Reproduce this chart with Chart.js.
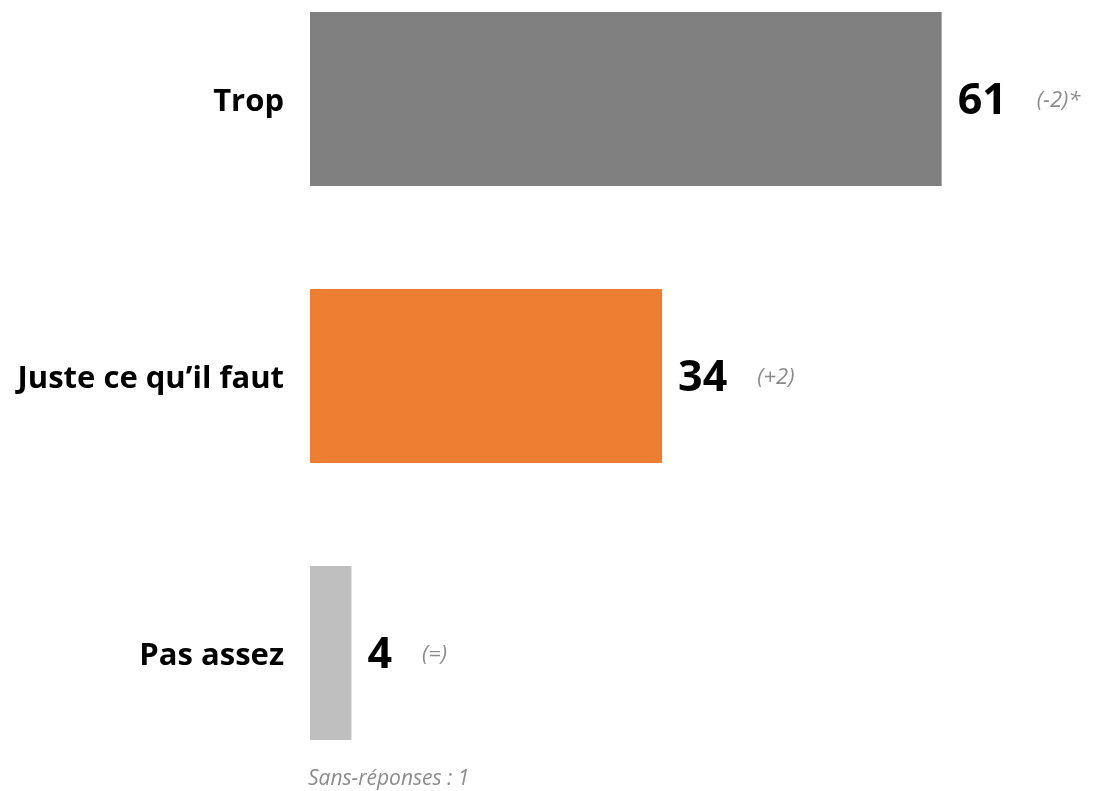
<!DOCTYPE html>
<html><head><meta charset="utf-8">
<script src="https://cdn.jsdelivr.net/npm/chart.js@4"></script>
<style>html,body{margin:0;padding:0;background:#fff}#wrap{width:1104px;height:791px}</style>
</head><body><div id="wrap"><canvas id="c"></canvas></div>
<script>
const categories = ["Trop", "Juste ce qu\u2019il faut", "Pas assez"];
const values = [61, 34, 4];
const changes = ["(-2)*", "(+2)", "(=)"];
const barColors = ["#808080", "#ED7D31", "#BFBFBF"];
const footnote = "Sans-r\u00e9ponses : 1";
const FONT = "'Open Sans', sans-serif";

const labelPlugin = {
  id: 'valueLabels',
  afterDatasetsDraw(chart) {
    const ctx = chart.ctx;
    const meta = chart.getDatasetMeta(0);
    ctx.save();
    meta.data.forEach((bar, i) => {
      const x = bar.x + 16;
      const y = bar.y;
      ctx.font = "bold 43px " + FONT;
      ctx.fillStyle = "#000";
      ctx.textAlign = "left";
      ctx.textBaseline = "middle";
      const txt = String(values[i]);
      ctx.fillText(txt, x, y + 3);
      const w = ctx.measureText(txt).width;
      ctx.font = "italic 22px " + FONT;
      ctx.fillStyle = "#8C8C8C";
      ctx.fillText(changes[i], x + w + 30, y + 2);
    });
    ctx.font = "italic 21px " + FONT;
    ctx.fillStyle = "#8C8C8C";
    ctx.textAlign = "left";
    ctx.textBaseline = "middle";
    ctx.fillText(footnote, 308, 779);
    ctx.restore();
  }
};

new Chart(document.getElementById('c'), {
  type: 'bar',
  data: {
    labels: categories,
    datasets: [{
      data: values,
      backgroundColor: barColors,
      borderWidth: 0,
      clip: false,
      barPercentage: 1,
      categoryPercentage: 0.628
    }]
  },
  options: {
    indexAxis: 'y',
    responsive: true,
    maintainAspectRatio: false,
    animation: false,
    layout: { padding: { left: 0, right: 7, top: 99, bottom: 138 } },
    plugins: { legend: { display: false }, tooltip: { enabled: false } },
    scales: {
      x: { display: false, min: 0, max: 76 },
      y: {
        offset: false,
        grid: { display: false, drawTicks: false },
        border: { display: false },
        ticks: { padding: 26, labelOffset: 3, color: "#000", font: { family: FONT, weight: "bold", size: 31 } },
        afterFit(scale) { scale.width = 310; }
      }
    }
  },
  plugins: [labelPlugin]
});
</script>
</body></html>
